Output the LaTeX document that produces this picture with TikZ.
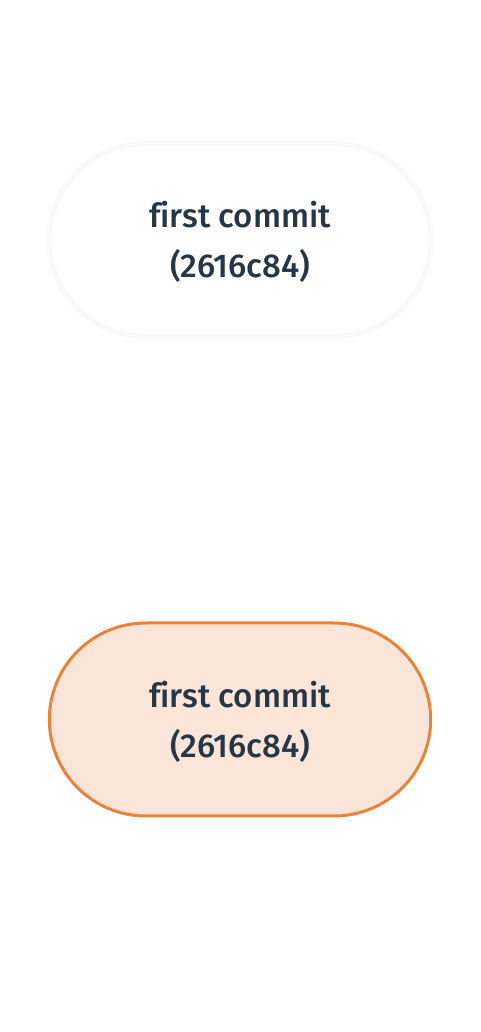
\documentclass[tikz,border=0pt]{standalone}
\usepackage{fontspec}
\setmainfont{Fira Sans}[UprightFont=* Medium, Ligatures=NoCommon]
\usetikzlibrary{shapes.misc}
\definecolor{txt}{HTML}{253746}
\definecolor{org}{HTML}{E8843A}
\definecolor{orgfill}{HTML}{FBE5D8}
\definecolor{faint}{HTML}{F9F9F9}
\tikzset{
  commit/.style={rounded rectangle, minimum width=388pt, minimum height=193pt,
    align=center, text=txt, font=\fontsize{33}{50}\selectfont, line width=3pt, outer sep=0pt},
  commitlabel/.style={align=center, text=txt, font=\fontsize{33}{50}\selectfont, inner sep=0pt},
}
\begin{document}
\begin{tikzpicture}[x=1pt,y=1pt]
\useasboundingbox[fill=white] (0,0) rectangle (480,1032);
\node[commit, draw=faint, line width=5pt, fill=white] (top) at (240,792) {};
\node[commitlabel] (toplbl) at ([yshift=-2pt]top.center) {first commit\\(2616c84)};
\node[commit, draw=org, fill=orgfill] (bot) at (240,312.5) {};
\node[commitlabel] (botlbl) at ([yshift=-2pt]bot.center) {first commit\\(2616c84)};
\end{tikzpicture}
\end{document}
